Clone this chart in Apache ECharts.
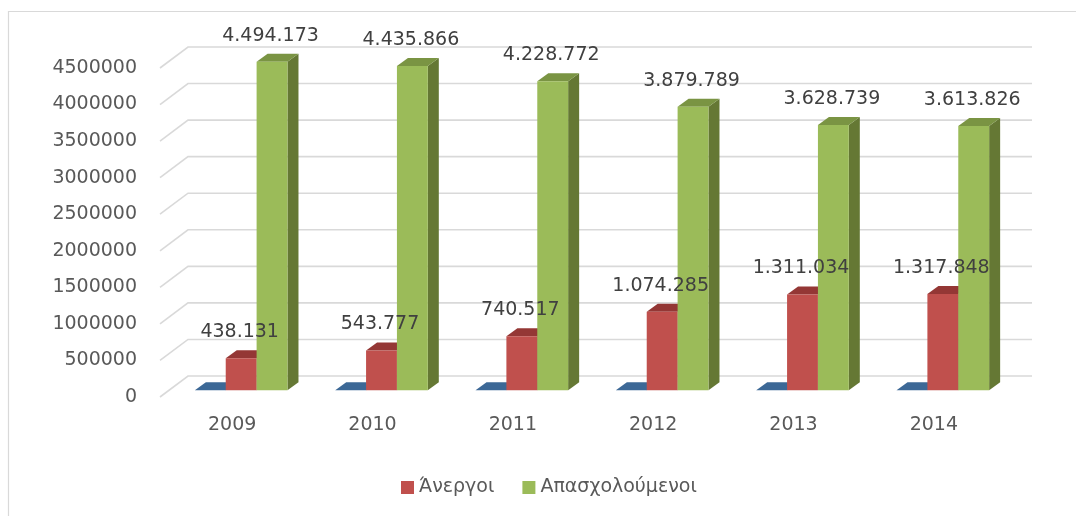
<!DOCTYPE html>
<html>
<head>
<meta charset="utf-8">
<script src="https://cdn.jsdelivr.net/npm/echarts@6/dist/echarts.min.js"></script>
<style>
  html, body { margin: 0; padding: 0; background: #fff; }
  #chart { width: 1076px; height: 516px; }
</style>
</head>
<body>
<div id="chart"></div>
<script>
const years = ["2009", "2010", "2011", "2012", "2013", "2014"];
const blueVals = [0, 0, 0, 0, 0, 0];
const unemployed = [438131, 543777, 740517, 1074285, 1311034, 1317848];
const employed = [4494173, 4435866, 4228772, 3879789, 3628739, 3613826];
const yTicks = [0, 500000, 1000000, 1500000, 2000000, 2500000, 3000000, 3500000, 4000000, 4500000];

const FONT = "DejaVu Sans";
// offsets for the pseudo-3d look
const WALL_DX = 28, WALL_DY = -21;
const BAR_DX = 9, BAR_DY = -6.7;
const DEPTH_DX = 11, DEPTH_DY = -8;

function fmt(v) {
    return String(v).replace(/\B(?=(\d{3})+(?!\d))/g, ".");
}

function shade(front, top, side) {
    return { front, top, side };
}

const palettes = [
    shade("#4F81BD", "#3C6896", "#3A6190"),
    shade("#C0504D", "#943735", "#8C3431"),
    shade("#9BBB59", "#7A9443", "#657834"),
];

function gridRender(params, api) {
    const cs = params.coordSys;
    const y = api.coord([0, api.value(1)])[1];
    const x0 = cs.x - 2;
    return {
        type: "polyline",
        silent: true,
        shape: { points: [[x0, y], [x0 + WALL_DX, y + WALL_DY], [cs.x + cs.width + WALL_DX, y + WALL_DY]] },
        style: { stroke: "#d9d9d9", lineWidth: 1.6, fill: null },
    };
}

function barRender(s, withLabel) {
    return function (params, api) {
        const idx = api.value(0);
        const val = api.value(1);
        const c = api.coord([idx, val]);
        const base = api.coord([idx, 0]);
        const bw = api.size([1, 0])[0] * 0.22;
        const x0 = c[0] + BAR_DX - 1.5 * bw + s * bw;
        const yTop = c[1] + BAR_DY;
        const yBot = base[1] + BAR_DY;
        const p = palettes[s];
        const children = [
            {
                type: "polygon",
                shape: { points: [[x0 + bw, yTop], [x0 + bw + DEPTH_DX, yTop + DEPTH_DY], [x0 + bw + DEPTH_DX, yBot + DEPTH_DY], [x0 + bw, yBot]] },
                style: { fill: p.side },
            },
            {
                type: "polygon",
                shape: { points: [[x0, yTop], [x0 + bw, yTop], [x0 + bw + DEPTH_DX, yTop + DEPTH_DY], [x0 + DEPTH_DX, yTop + DEPTH_DY]] },
                style: { fill: p.top },
            },
            {
                type: "rect",
                shape: { x: x0, y: yTop, width: bw, height: yBot - yTop },
                style: { fill: p.front },
            },
        ];
        if (withLabel) {
            children.push({
                type: "text",
                z2: 100,
                x: x0 + bw / 2 - 1.5,
                y: yTop - 26,
                style: {
                    text: fmt(val),
                    fill: "#404040",
                    font: "19px " + FONT,
                    align: "center",
                    verticalAlign: "middle",
                },
            });
        }
        return { type: "group", children };
    };
}

const chart = echarts.init(document.getElementById("chart"), null, { renderer: "canvas" });

chart.setOption({
    animation: false,
    backgroundColor: "#fff",
    color: ["#4F81BD", "#C0504D", "#9BBB59"],
    textStyle: { fontFamily: FONT },
    graphic: [
        {
            type: "rect",
            silent: true,
            shape: { x: 8.5, y: 11.5, width: 1200, height: 700 },
            style: { fill: null, stroke: "#d9d9d9", lineWidth: 1.2 },
        },
    ],
    grid: { left: 162, right: 72, top: 68, bottom: 119 },
    legend: {
        data: ["Άνεργοι", "Απασχολούμενοι"],
        left: 396,
        top: 473,
        icon: "rect",
        itemWidth: 13,
        itemHeight: 13,
        itemGap: 28,
        textStyle: { fontFamily: FONT, fontSize: 19, color: "#595959" },
    },
    xAxis: {
        type: "category",
        data: years,
        axisLine: { show: false },
        axisTick: { show: false },
        axisLabel: { fontSize: 19, color: "#595959", margin: 19, fontFamily: FONT },
    },
    yAxis: {
        type: "value",
        min: 0,
        max: 4500000,
        interval: 500000,
        axisLine: { show: false },
        axisTick: { show: false },
        splitLine: { show: false },
        axisLabel: {
            fontSize: 19,
            color: "#595959",
            margin: 25,
            fontFamily: FONT,
            formatter: (v) => String(v),
        },
    },
    series: [
        {
            type: "custom",
            name: "grid",
            silent: true,
            renderItem: gridRender,
            data: yTicks.map((v) => [0, v]),
        },
        {
            type: "custom",
            name: "Έτος",
            renderItem: barRender(0, false),
            itemStyle: { color: "#4F81BD" },
            data: blueVals.map((v, i) => [i, v]),
        },
        {
            type: "custom",
            name: "Άνεργοι",
            renderItem: barRender(1, true),
            itemStyle: { color: "#C0504D" },
            data: unemployed.map((v, i) => [i, v]),
        },
        {
            type: "custom",
            name: "Απασχολούμενοι",
            renderItem: barRender(2, true),
            itemStyle: { color: "#9BBB59" },
            data: employed.map((v, i) => [i, v]),
        },
    ],
});
</script>
</body>
</html>
